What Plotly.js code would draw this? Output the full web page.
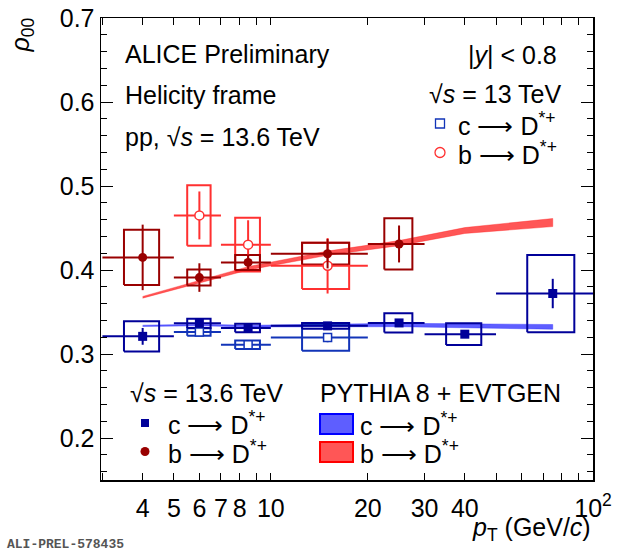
<!DOCTYPE html>
<html>
<head>
<meta charset="utf-8">
<script src="https://cdn.plot.ly/plotly-3.0.1.min.js"></script>
<style>
  html, body { margin: 0; padding: 0; background: #fff; }
  #chart { width: 620px; height: 551px; }
</style>
</head>
<body>
<div id="chart"></div>
<script>
// pT bins (GeV/c)
const binLo = [3, 5, 7, 10, 20, 30, 50]
const binHi = [5, 7, 10, 20, 30, 50, 100]

// ALICE pp 13.6 TeV, c -> D*+
const c136Val = [0.321, 0.3365, 0.331, 0.3335, 0.337, 0.3236, 0.372]
const c136Stat = [0.010, 0.004, 0.003, 0.003, 0.003, 0.004, 0.0175]
const c136Syst = [0.018, 0.0055, 0.005, 0.0035, 0.0114, 0.013, 0.046]

// ALICE pp 13.6 TeV, b -> D*+ (first five bins)
const b136Val = [0.415, 0.391, 0.409, 0.4194, 0.431]
const b136Stat = [0.039, 0.017, 0.0095, 0.0175, 0.022]
const b136Syst = [0.033, 0.0095, 0.009, 0.013, 0.0305]

// ALICE pp 13 TeV (bins 2-4)
const c13Val = [0.3263, 0.311, 0.3195]
const c13Stat = [0.003, 0.003, 0.0055]
const c13Syst = [0.0045, 0.005, 0.0155]
const b13Val = [0.465, 0.4302, 0.405]
const b13Stat = [0.0285, 0.029, 0.033]
const b13Syst = [0.036, 0.032, 0.0275]

// PYTHIA 8 + EVTGEN, at bin centres
const pyC = [0.3335, 0.3345, 0.3332, 0.3338, 0.3345, 0.3335, 0.3323]
const pyCErr = [0.0008, 0.001, 0.001, 0.0015, 0.002, 0.0025, 0.0028]
const pyB = [0.3675, 0.386, 0.402, 0.420, 0.432, 0.447, 0.4565]
const pyBErr = [0.001, 0.0015, 0.002, 0.0025, 0.003, 0.0035, 0.0048]

const ptC = binLo.map((lo, i) => (lo + binHi[i]) / 2)
const errHi = ptC.map((c, i) => binHi[i] - c)
const errLo = ptC.map((c, i) => c - binLo[i])
const boxHw = ptC.map((c, i) => (binHi[i] - binLo[i]) / 4)

const C136 = '#000099', B136 = '#990000', C13 = '#1234b8', B13 = '#ff3030'
const FONT = 'Liberation Sans, Arial, sans-serif'

function boxes(idx, vals, syst, color, width) {
  const x = [], y = []
  idx.forEach((k, i) => {
    const l = ptC[k] - boxHw[k], r = ptC[k] + boxHw[k]
    const lo = vals[i] - syst[i], hi = vals[i] + syst[i]
    x.push(l, r, r, l, l, null)
    y.push(lo, lo, hi, hi, lo, null)
  })
  return { x, y, type: 'scatter', mode: 'lines', line: { color, width }, hoverinfo: 'skip' }
}

function points(idx, vals, stat, color, marker) {
  return {
    x: idx.map(k => ptC[k]), y: vals, type: 'scatter', mode: 'markers',
    marker,
    error_x: { type: 'data', symmetric: false, array: idx.map(k => errHi[k]),
      arrayminus: idx.map(k => errLo[k]), width: 0, thickness: 2, color },
    error_y: { type: 'data', array: stat, width: 0, thickness: 2, color },
  }
}

function band(vals, errs, color) {
  const up = vals.map((v, i) => v + errs[i])
  const dn = vals.map((v, i) => v - errs[i])
  return {
    x: ptC.concat(ptC.slice().reverse()),
    y: up.concat(dn.slice().reverse()),
    type: 'scatter', mode: 'lines', fill: 'toself', fillcolor: color,
    line: { width: 0.5, color }, hoverinfo: 'skip',
  }
}

// legend symbol, in pixel coordinates of the frame
function key(x, y, marker) {
  return { x: [x], y: [y], xaxis: 'x2', yaxis: 'y2', type: 'scatter', mode: 'markers',
    opacity: 1, hoverinfo: 'skip', marker }
}

const all7 = [0, 1, 2, 3, 4, 5, 6]
const first5 = [0, 1, 2, 3, 4]
const mid3 = [1, 2, 3]

const data = [
  band(pyC, pyCErr, 'rgba(40,40,255,0.75)'),
  band(pyB, pyBErr, 'rgba(255,30,30,0.75)'),
  boxes(mid3, c13Val, c13Syst, C13, 2),
  boxes(mid3, b13Val, b13Syst, B13, 2),
  boxes(all7, c136Val, c136Syst, C136, 2),
  boxes(first5, b136Val, b136Syst, B136, 2),
  points(mid3, c13Val, c13Stat, C13, { symbol: 'square', size: 8, color: '#fff', line: { color: C13, width: 1.5 } }),
  points(mid3, b13Val, b13Stat, B13, { symbol: 'circle', size: 9, color: '#fff', line: { color: B13, width: 1.5 } }),
  points(all7, c136Val, c136Stat, C136, { symbol: 'square', size: 9, color: C136 }),
  points(first5, b136Val, b136Stat, B136, { symbol: 'circle', size: 9, color: B136 }),
  key(440, 123.5, { symbol: 'square', size: 9, color: '#fff', line: { color: C13, width: 1.3 } }),
  key(440, 152.5, { symbol: 'circle', size: 10, color: '#fff', line: { color: B13, width: 1.3 } }),
  key(145, 423, { symbol: 'square', size: 8, color: C136, line: { width: 0 } }),
  key(145, 451.5, { symbol: 'circle', size: 9, color: B136, line: { width: 0 } }),
]

const L = 101, R = 593, T = 18, B = 480
const px = x => (x - L) / (R - L)
const py = y => (B - y) / (B - T)

function txt(text, x, y, xanchor, extra) {
  return Object.assign({
    text, x: px(x), y: py(y), xref: 'paper', yref: 'paper',
    xanchor, yanchor: 'middle', showarrow: false,
    font: { family: FONT, size: 25, color: '#000' },
  }, extra || {})
}

const xTicks = []
for (let v = 3; v <= 10; v++) xTicks.push(v)
for (let v = 20; v <= 100; v += 10) xTicks.push(v)
const xLabels = { 4: '4', 5: '5', 6: '6', 7: '7', 8: '8', 10: '10', 20: '20', 30: '30', 40: '40', 100: '10<sup>2</sup>' }

const arrow = ' ⟶ '
const layout = {
  width: 620, height: 551,
  margin: { l: L, r: 620 - R, t: T, b: 551 - B },
  paper_bgcolor: '#fff', plot_bgcolor: '#fff',
  showlegend: false, hovermode: false,
  font: { family: FONT, size: 24, color: '#000' },
  xaxis: {
    type: 'log', range: [Math.log10(2.97), 2],
    tickvals: xTicks, ticktext: xTicks.map(v => xLabels[v] || ''),
    ticks: 'inside', ticklen: 7, tickwidth: 1, tickcolor: '#000',
    ticklabelstandoff: 5,
    showline: true, linecolor: '#000', linewidth: 1.5, mirror: 'ticks',
    showgrid: false, zeroline: false,
    tickfont: { family: FONT, size: 25 },
  },
  yaxis: {
    range: [0.15, 0.7],
    tickvals: [0.2, 0.3, 0.4, 0.5, 0.6, 0.7],
    ticktext: ['0.2', '0.3', '0.4', '0.5', '0.6', '0.7'],
    ticks: 'inside', ticklen: 12, tickwidth: 1, tickcolor: '#000',
    minor: { dtick: 0.02, tick0: 0.2, ticks: 'inside', ticklen: 6, tickcolor: '#000', showgrid: false },
    showline: true, linecolor: '#000', linewidth: 1.5, mirror: 'ticks',
    showgrid: false, zeroline: false,
    tickfont: { family: FONT, size: 25 },
  },
  xaxis2: { overlaying: 'x', anchor: 'y2', range: [L, R], visible: false, fixedrange: true },
  yaxis2: { overlaying: 'y', anchor: 'x2', range: [B, T], visible: false, fixedrange: true },
  shapes: [
    { type: 'rect', xref: 'paper', yref: 'paper', x0: px(320), x1: px(353), y0: py(434), y1: py(414),
      fillcolor: 'rgba(40,40,255,0.75)', line: { color: '#0000ff', width: 2 } },
    { type: 'rect', xref: 'paper', yref: 'paper', x0: px(320), x1: px(353), y0: py(462), y1: py(442),
      fillcolor: 'rgba(255,30,30,0.75)', line: { color: '#ff0000', width: 2 } },
  ],
  annotations: [
    txt('ALICE Preliminary', 123, 54, 'left'),
    txt('Helicity frame', 123, 95, 'left'),
    txt('pp, √<i>s</i> = 13.6 TeV', 123, 137, 'left'),
    txt('|<i>y</i>| < 0.8', 559, 55, 'right'),
    txt('√<i>s</i> = 13 TeV', 563, 94, 'right'),
    txt('c' + arrow + 'D<sup>*+</sup>', 456, 124, 'left'),
    txt('b' + arrow + 'D<sup>*+</sup>', 456, 153, 'left'),
    txt('√<i>s</i> = 13.6 TeV', 128, 393, 'left'),
    txt('c' + arrow + 'D<sup>*+</sup>', 166, 423, 'left'),
    txt('b' + arrow + 'D<sup>*+</sup>', 166, 452, 'left'),
    txt('PYTHIA 8 + EVTGEN', 318, 393, 'left'),
    txt('c' + arrow + 'D<sup>*+</sup>', 358, 424, 'left'),
    txt('b' + arrow + 'D<sup>*+</sup>', 358, 452, 'left'),
    txt('<i>p</i><sub>T</sub> (GeV/<i>c</i>)', 593, 529, 'right'),
    txt('<i>ρ</i><sub>00</sub>', 21, 16, 'center', { textangle: -90, yanchor: 'top' }),
    txt('ALI-PREL-578435', 5, 544, 'left',
      { font: { family: 'Liberation Mono, monospace', size: 13, color: '#555', weight: 'bold' } }),
  ],
}

Plotly.newPlot('chart', data, layout, { staticPlot: true, displayModeBar: false })
</script>
</body>
</html>
